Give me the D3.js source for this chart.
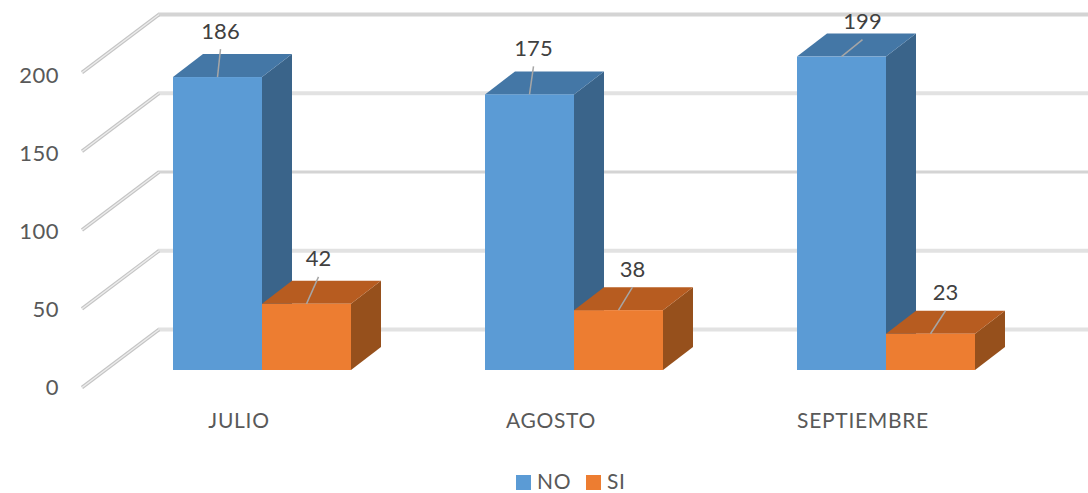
<!DOCTYPE html>
<html>
<head>
<meta charset="utf-8">
<script src="https://cdn.jsdelivr.net/npm/d3@7"></script>
<style>
  html, body { margin: 0; padding: 0; background: #fff; }
  svg { display: block; }
  text { font-family: Lato, "Open Sans", sans-serif; }
</style>
</head>
<body>
<svg id="chart"></svg>
<script>
var categories = ["JULIO", "AGOSTO", "SEPTIEMBRE"];
var seriesNames = ["NO", "SI"];
var noValues = [186, 175, 199];
var siValues = [42, 38, 23];
var yTicks = [0, 50, 100, 150, 200];

var width = 1088, height = 493;
var depthX = 30, depthY = 23;

// where the leader lines end, relative to the front top edge of each bar
var leaderNo = [[3, -28], [4, -28], [21, -17]];
var leaderSi = [[12, -27], [14, -23], [15, -23]];

var colors = {
    NO: {front: "#5b9bd5", top: "#4477a6", side: "#3a648a"},
    SI: {front: "#ed7d31", top: "#b75c20", side: "#96501c"}
};

var svg = d3.select("#chart").attr("width", width).attr("height", height);

var x = d3.scaleBand().domain(categories).range([106, 1042]);
var inner = d3.scaleBand().domain(seriesNames).range([67, 245]);
var y = d3.scaleLinear().domain([0, 200]).range([370, 55]);
var yLabel = d3.scaleLinear().domain([0, 200]).range([387, 75]);

// walls: the back lines and the diagonals down to the axis labels
var grid = svg.append("g");
yTicks.forEach(function (t) {
    var back = y(t) - 40.5, front = y(t) + 17.5;
    grid.append("line")
        .attr("x1", 158).attr("x2", width)
        .attr("y1", back).attr("y2", back)
        .attr("stroke", t === 200 || t === 100 ? "#d4d4d4" : "#e2e2e2")
        .attr("stroke-width", t === 100 ? 3 : 4);
    grid.append("line")
        .attr("x1", 82).attr("y1", front)
        .attr("x2", 159).attr("y2", back)
        .attr("stroke", "#c4c4c4")
        .attr("stroke-width", 3.5);
    grid.append("line")
        .attr("x1", 82).attr("y1", front)
        .attr("x2", 159).attr("y2", back)
        .attr("stroke", "#ececec")
        .attr("stroke-width", 1.5);
});

function bar(g, cat, name, value) {
    var x0 = x(cat) + inner(name);
    var x1 = x0 + inner.bandwidth();
    var y0 = y(value), yb = y(0);
    var c = colors[name];
    // side
    g.append("path")
        .attr("d", d3.line()([[x1, y0], [x1 + depthX, y0 - depthY], [x1 + depthX, yb - depthY], [x1, yb]]))
        .attr("fill", c.side);
    // top
    g.append("path")
        .attr("d", d3.line()([[x0, y0], [x0 + depthX, y0 - depthY], [x1 + depthX, y0 - depthY], [x1, y0]]))
        .attr("fill", c.top);
    g.append("rect")
        .attr("x", x0).attr("y", y0)
        .attr("width", x1 - x0).attr("height", yb - y0)
        .attr("fill", c.front);
}

function valueLabel(g, cat, name, value, off) {
    var cx = x(cat) + inner(name) + inner.bandwidth() / 2;
    var cy = y(value);
    g.append("line")
        .attr("x1", cx).attr("y1", cy)
        .attr("x2", cx + off[0]).attr("y2", cy + off[1])
        .attr("stroke", "#a6a6a6")
        .attr("stroke-width", 1.5);
    g.append("text")
        .attr("x", cx + off[0]).attr("y", cy + off[1] - 10.5)
        .attr("text-anchor", "middle")
        .attr("font-size", 22)
        .attr("fill", "#404040")
        .text(value);
}

var bars = svg.append("g");
categories.forEach(function (cat, i) {
    bar(bars, cat, "NO", noValues[i]);
    bar(bars, cat, "SI", siValues[i]);
});
categories.forEach(function (cat, i) {
    valueLabel(bars, cat, "NO", noValues[i], leaderNo[i]);
    valueLabel(bars, cat, "SI", siValues[i], leaderSi[i]);
});

// y axis labels
svg.append("g").selectAll("text").data(yTicks).join("text")
    .attr("x", 59)
    .attr("y", function (d) { return yLabel(d); })
    .attr("dy", "0.35em")
    .attr("text-anchor", "end")
    .attr("font-size", 22)
    .attr("letter-spacing", 0.5)
    .attr("fill", "#595959")
    .text(function (d) { return d; });

// category labels
svg.append("g").selectAll("text").data(categories).join("text")
    .attr("x", function (d) { return x(d) + x.bandwidth() / 2 - 23; })
    .attr("y", 421)
    .attr("dy", "0.35em")
    .attr("text-anchor", "middle")
    .attr("font-size", 21)
    .attr("letter-spacing", 0.7)
    .attr("fill", "#595959")
    .text(function (d) { return d; });

// legend
var legendX = [516, 586];
seriesNames.forEach(function (name, i) {
    svg.append("rect")
        .attr("x", legendX[i]).attr("y", 475)
        .attr("width", 15).attr("height", 15)
        .attr("fill", colors[name].front);
    svg.append("text")
        .attr("x", legendX[i] + 21).attr("y", 488.5)
        .attr("font-size", 21)
        .attr("letter-spacing", 0.6)
        .attr("fill", "#595959")
        .text(name);
});
</script>
</body>
</html>
